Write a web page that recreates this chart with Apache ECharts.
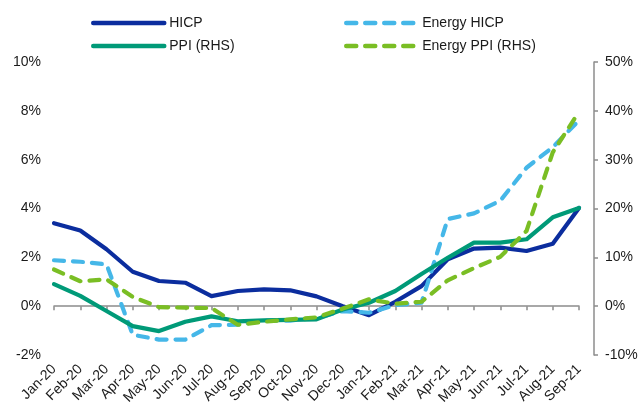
<!DOCTYPE html>
<html>
<head>
<meta charset="utf-8">
<script src="https://cdn.jsdelivr.net/npm/echarts@6/dist/echarts.min.js"></script>
<style>
  html, body { margin: 0; padding: 0; background: #fff; }
  #chart { width: 642px; height: 412px; }
</style>
</head>
<body>
<div id="chart"></div>
<script>
var months = ['Jan-20', 'Feb-20', 'Mar-20', 'Apr-20', 'May-20', 'Jun-20', 'Jul-20', 'Aug-20', 'Sep-20', 'Oct-20', 'Nov-20', 'Dec-20',
  'Jan-21', 'Feb-21', 'Mar-21', 'Apr-21', 'May-21', 'Jun-21', 'Jul-21', 'Aug-21', 'Sep-21']

// left axis, %
var hicp = [3.4, 3.1, 2.33, 1.41, 1.03, 0.96, 0.41, 0.62, 0.69, 0.65, 0.4, 0.0,
  -0.37, 0.18, 0.82, 1.92, 2.36, 2.4, 2.26, 2.56, 4.02]
var energyHicp = [1.88, 1.82, 1.71, -1.17, -1.37, -1.37, -0.78, -0.76, -0.59, -0.59, -0.48, -0.2,
  -0.27, 0.04, 0.14, 3.57, 3.8, 4.32, 5.67, 6.51, 7.61]

// right axis, %
var ppi = [4.5, 2.1, -1.0, -4.1, -5.1, -3.2, -2.1, -3.1, -2.9, -2.8, -2.7, -0.7,
  0.7, 3.1, 6.6, 9.9, 13.0, 13.0, 13.7, 18.2, 20.1]
var energyPpi = [7.5, 5.1, 5.5, 1.9, -0.2, -0.3, -0.4, -3.8, -3.2, -2.7, -2.3, -0.5,
  1.4, 0.5, 0.9, 5.3, 7.8, 10.1, 15.4, 31.5, 39.8]

var leftTicks = { min: -2, max: 10, interval: 2 }
var rightTicks = { min: -10, max: 50, interval: 10 }

var FONT = '"Liberation Sans", Arial, sans-serif'
var TEXT = '#1a1a1a'
var colors = {
  hicp: '#0b2d9e',
  ppi: '#009a78',
  energyHicp: '#45b7e8',
  energyPpi: '#7abe24'
}

function legendAt(name, left, top) {
  return {
    data: [name],
    left: left,
    top: top,
    itemWidth: 71,
    itemHeight: 14,
    itemGap: 0,
    itemStyle: { opacity: 0 },
    lineStyle: { width: 4.5, cap: 'round', opacity: 1 },
    textStyle: { fontFamily: FONT, fontSize: 14, color: TEXT }
  }
}

function lineSeries(name, data, color, yIndex, dashed) {
  return {
    name: name,
    type: 'line',
    data: data,
    xAxisIndex: 0,
    yAxisIndex: yIndex,
    symbol: 'none',
    z: 3,
    lineStyle: {
      color: color,
      width: 4.2,
      type: dashed ? [10, 9] : 'solid',
      cap: 'round',
      join: 'round'
    },
    itemStyle: { color: color }
  }
}

var chart = echarts.init(document.getElementById('chart'))

chart.setOption({
  backgroundColor: '#fff',
  animation: false,
  textStyle: { fontFamily: FONT },
  legend: [
    legendAt('HICP', 86, 11),
    legendAt('PPI (RHS)', 86, 34),
    legendAt('Energy HICP', 339, 11),
    legendAt('Energy PPI (RHS)', 339, 34)
  ],
  grid: {
    left: 54,
    right: 63,
    top: 62,
    bottom: 57
  },
  xAxis: [
    {
      type: 'category',
      data: months,
      position: 'bottom',
      boundaryGap: false,
      axisLine: { show: false, onZero: false },
      axisTick: { show: false },
      splitLine: { show: false },
      axisLabel: {
        rotate: 45,
        interval: 0,
        margin: 12,
        fontFamily: FONT,
        fontSize: 14,
        color: TEXT
      }
    },
    {
      type: 'category',
      data: months,
      position: 'bottom',
      boundaryGap: false,
      axisLine: { show: true, onZero: true, onZeroAxisIndex: 0, lineStyle: { color: '#8c8c8c', width: 1.5 } },
      axisTick: { show: true, alignWithLabel: true, interval: 0, length: 4, lineStyle: { color: '#8c8c8c', width: 1.5 } },
      axisLabel: { show: false },
      splitLine: { show: false }
    }
  ],
  yAxis: [
    {
      type: 'value',
      position: 'left',
      min: leftTicks.min,
      max: leftTicks.max,
      interval: leftTicks.interval,
      axisLine: { show: false },
      axisTick: { show: false },
      splitLine: { show: false },
      axisLabel: {
        formatter: '{value}%',
        margin: 13,
        fontFamily: FONT,
        fontSize: 14,
        color: TEXT
      }
    },
    {
      type: 'value',
      position: 'right',
      offset: 15,
      min: rightTicks.min,
      max: rightTicks.max,
      interval: rightTicks.interval,
      axisLine: { show: true, lineStyle: { color: '#8c8c8c', width: 1.5 } },
      axisTick: { show: true, length: 4, lineStyle: { color: '#8c8c8c', width: 1.5 } },
      splitLine: { show: false },
      axisLabel: {
        formatter: '{value}%',
        margin: 11,
        fontFamily: FONT,
        fontSize: 14,
        color: TEXT
      }
    }
  ],
  series: [
    lineSeries('HICP', hicp, colors.hicp, 0, false),
    lineSeries('Energy HICP', energyHicp, colors.energyHicp, 0, true),
    lineSeries('PPI (RHS)', ppi, colors.ppi, 1, false),
    lineSeries('Energy PPI (RHS)', energyPpi, colors.energyPpi, 1, true)
  ]
})
</script>
</body>
</html>
